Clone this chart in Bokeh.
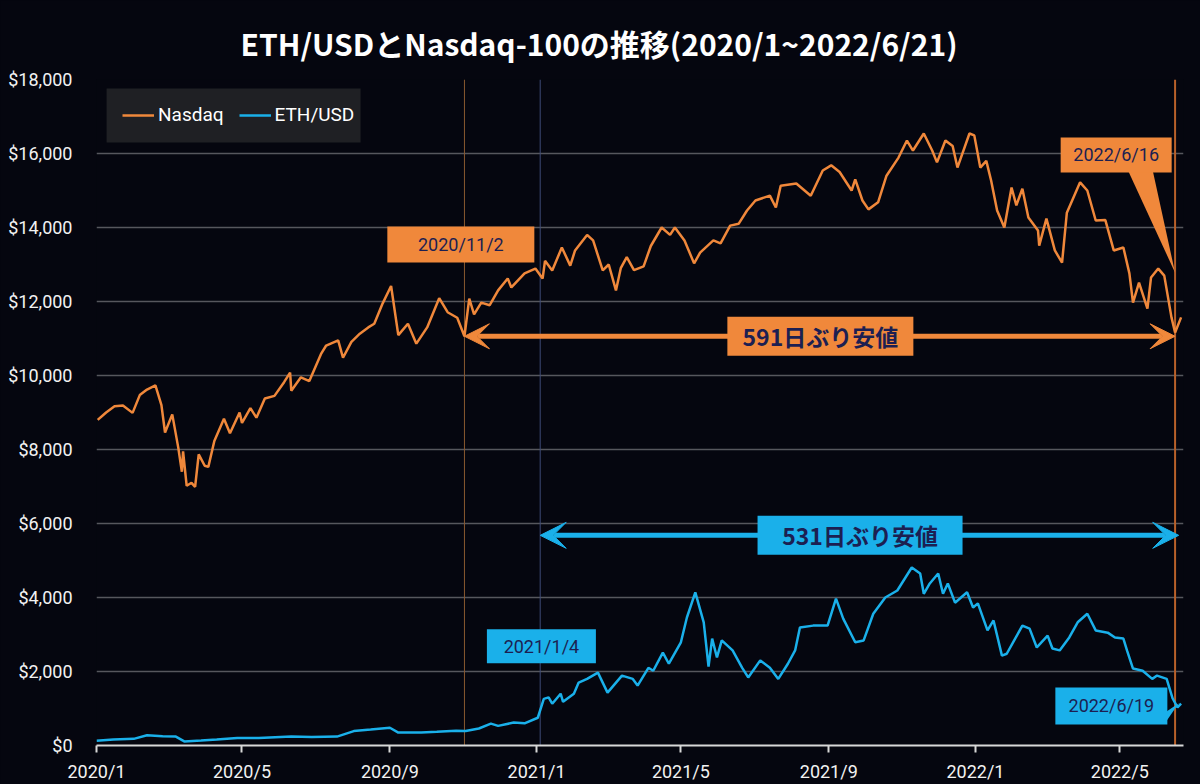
import pandas as pd
from bokeh.plotting import figure
from bokeh.models import (FixedTicker, NumeralTickFormatter, Span, Arrow, VeeHead, Range1d)
from bokeh.core.properties import value
from bokeh.embed import file_html
from bokeh.resources import INLINE

# ---------------- data ----------------
nasdaq_dates = [
    "2020-01-02", "2020-01-09", "2020-01-16", "2020-01-23", "2020-01-31", "2020-02-06", "2020-02-12",
    "2020-02-19", "2020-02-24", "2020-02-27", "2020-03-04", "2020-03-09", "2020-03-12", "2020-03-13",
    "2020-03-16", "2020-03-20", "2020-03-23", "2020-03-26", "2020-03-31", "2020-04-03", "2020-04-08",
    "2020-04-16", "2020-04-21", "2020-04-29", "2020-05-01", "2020-05-08", "2020-05-13", "2020-05-20",
    "2020-05-28", "2020-06-05", "2020-06-10", "2020-06-11", "2020-06-19", "2020-06-26", "2020-07-06",
    "2020-07-10", "2020-07-20", "2020-07-24", "2020-07-31", "2020-08-07", "2020-08-14", "2020-08-19",
    "2020-08-26", "2020-09-02", "2020-09-08", "2020-09-16", "2020-09-23", "2020-10-02", "2020-10-12",
    "2020-10-19", "2020-10-27", "2020-11-02", "2020-11-06", "2020-11-10", "2020-11-16", "2020-11-23",
    "2020-11-30", "2020-12-08", "2020-12-11", "2020-12-22", "2020-12-31",
    "2021-01-06", "2021-01-08", "2021-01-14", "2021-01-22", "2021-01-29", "2021-02-02", "2021-02-12",
    "2021-02-17", "2021-02-25", "2021-03-02", "2021-03-08", "2021-03-12", "2021-03-17", "2021-03-23",
    "2021-03-31", "2021-04-06", "2021-04-15", "2021-04-22", "2021-04-26", "2021-05-04", "2021-05-12",
    "2021-05-17", "2021-05-28", "2021-06-03", "2021-06-11", "2021-06-18", "2021-06-25", "2021-07-02",
    "2021-07-14", "2021-07-19", "2021-07-23", "2021-08-05", "2021-08-17", "2021-08-27", "2021-09-03",
    "2021-09-10", "2021-09-20", "2021-09-23", "2021-09-29", "2021-10-04", "2021-10-12", "2021-10-19",
    "2021-10-29", "2021-11-05", "2021-11-10", "2021-11-19", "2021-11-26", "2021-11-30", "2021-12-07",
    "2021-12-13", "2021-12-17", "2021-12-27", "2021-12-31",
    "2022-01-05", "2022-01-10", "2022-01-14", "2022-01-19", "2022-01-25", "2022-01-31", "2022-02-04",
    "2022-02-09", "2022-02-14", "2022-02-22", "2022-02-23", "2022-03-01", "2022-03-08", "2022-03-14",
    "2022-03-18", "2022-03-29", "2022-04-04", "2022-04-11", "2022-04-19", "2022-04-26", "2022-05-04",
    "2022-05-09", "2022-05-12", "2022-05-17", "2022-05-24", "2022-05-27", "2022-06-02", "2022-06-07",
    "2022-06-13", "2022-06-16", "2022-06-21",
]
nasdaq_values = [
    8800, 9000, 9170, 9190, 8990, 9470, 9620,
    9730, 9200, 8460, 8950, 8050, 7400, 7950,
    7020, 7100, 6990, 7870, 7560, 7530, 8230,
    8830, 8440, 9000, 8720, 9120, 8860, 9380,
    9450, 9820, 10080, 9590, 9950, 9850, 10600,
    10810, 10950, 10480, 10910, 11130, 11300, 11400,
    11950, 12420, 11090, 11400, 10860, 11300, 12090,
    11710, 11560, 11060, 12080, 11650, 11970, 11900,
    12300, 12620, 12380, 12760, 12890,
    12620, 13100, 12840, 13460, 12970, 13380, 13800,
    13650, 12840, 13000, 12300, 12900, 13200, 12850,
    12950, 13500, 14000, 13800, 14000, 13650, 13030,
    13320, 13650, 13570, 14050, 14100, 14460, 14730,
    14860, 14540, 15130, 15190, 14860, 15540, 15680,
    15500, 15000, 15300, 14730, 14490, 14680, 15400,
    15890, 16350, 16080, 16540, 16080, 15760, 16350,
    16200, 15620, 16540, 16490,
    15620, 15800, 15270, 14460, 14000, 15080, 14600,
    15050, 14270, 13920, 13510, 14240, 13380, 13050,
    14400, 15220, 15000, 14190, 14200, 13380, 13460,
    12760, 11970, 12510, 11810, 12650, 12890, 12700,
    11570, 11160, 11570,
]

eth_dates = [
    "2020-01-01", "2020-01-15", "2020-02-01", "2020-02-12", "2020-02-25", "2020-03-07", "2020-03-14",
    "2020-03-28", "2020-04-10", "2020-04-27", "2020-05-15", "2020-06-11", "2020-06-28", "2020-07-19",
    "2020-08-02", "2020-08-16", "2020-09-01", "2020-09-08", "2020-09-27", "2020-10-10", "2020-10-26",
    "2020-11-03", "2020-11-14", "2020-11-24", "2020-11-30", "2020-12-13", "2020-12-22", "2021-01-02",
    "2021-01-07", "2021-01-11", "2021-01-14", "2021-01-21", "2021-01-23", "2021-02-01", "2021-02-05",
    "2021-02-12", "2021-02-21", "2021-03-01", "2021-03-13", "2021-03-22", "2021-03-26", "2021-04-04",
    "2021-04-08", "2021-04-16", "2021-04-21", "2021-05-01", "2021-05-06", "2021-05-13", "2021-05-20",
    "2021-05-24", "2021-05-27", "2021-05-31", "2021-06-04", "2021-06-13", "2021-06-21", "2021-06-26",
    "2021-07-06", "2021-07-14", "2021-07-21", "2021-07-29", "2021-08-04", "2021-08-08", "2021-08-19",
    "2021-08-31", "2021-09-07", "2021-09-13", "2021-09-23", "2021-09-30", "2021-10-08", "2021-10-18",
    "2021-10-28", "2021-11-09", "2021-11-16", "2021-11-19", "2021-11-24", "2021-12-01", "2021-12-05",
    "2021-12-09", "2021-12-15", "2021-12-25", "2021-12-30", "2022-01-03", "2022-01-11", "2022-01-16",
    "2022-01-23", "2022-01-27", "2022-02-03", "2022-02-09", "2022-02-15", "2022-02-21", "2022-03-02",
    "2022-03-06", "2022-03-12", "2022-03-20", "2022-03-27", "2022-04-04", "2022-04-11", "2022-04-21",
    "2022-04-27", "2022-05-04", "2022-05-07", "2022-05-12", "2022-05-20", "2022-05-28", "2022-06-01",
    "2022-06-09", "2022-06-14", "2022-06-18", "2022-06-21",
]
eth_values = [
    130, 165, 180, 275, 250, 240, 110,
    135, 160, 200, 205, 240, 228, 240,
    390, 430, 480, 350, 350, 370, 400,
    390, 460, 590, 530, 620, 600, 750,
    1260, 1300, 1130, 1400, 1180, 1400, 1700,
    1800, 1970, 1430, 1890, 1800, 1620, 2100,
    2020, 2510, 2210, 2790, 3460, 4140, 3330,
    2130, 2890, 2380, 2840, 2570, 2100, 1840,
    2300, 2100, 1800, 2210, 2570, 3190, 3240,
    3240, 3970, 3430, 2790, 2840, 3560, 4000,
    4190, 4810, 4650, 4100, 4380, 4650, 4100,
    4380, 3860, 4140, 3730, 3840, 3110, 3380,
    2430, 2480, 2890, 3240, 3160, 2650, 2970,
    2620, 2570, 2920, 3330, 3560, 3110, 3050,
    2920, 2890, 2570, 2080, 2020, 1800, 1890,
    1800, 1270, 1030, 1130,
]

x_tick_dates = ["2020-01-01", "2020-05-01", "2020-09-01", "2021-01-01",
                "2021-05-01", "2021-09-01", "2022-01-01", "2022-05-01"]
x_tick_labels = ["2020/1", "2020/5", "2020/9", "2021/1", "2021/5", "2021/9", "2022/1", "2022/5"]
y_ticks = [0, 2000, 4000, 6000, 8000, 10000, 12000, 14000, 16000, 18000]

title_text = "ETH/USDとNasdaq-100の推移(2020/1~2022/6/21)"
nasdaq_prev_low_date, nasdaq_low_date = "2020-11-02", "2022-06-16"
eth_prev_low_date, eth_low_date = "2021-01-04", "2022-06-19"

# ---------------- styles ----------------
BG = "#05060f"
ORANGE = "#f0883b"
CYAN = "#1ab0ea"
NAVY = "#1c1f52"
GRID = "#56575d"
TXT = "#f2f2f2"
LEGEND_BG = "#1f2024"
FONT = "Roboto"
JP = "Noto Sans CJK JP"


def ms(d):
    return pd.Timestamp(d).value / 1e6


def nasdaq_at(d):
    return nasdaq_values[nasdaq_dates.index(d)]


p = figure(width=1200, height=784, x_axis_type="datetime",
           x_range=Range1d(ms("2020-01-01"), ms("2022-06-23")),
           y_range=Range1d(0, 18000),
           output_backend="svg", toolbar_location=None,
           background_fill_color=BG, border_fill_color=BG,
           min_border_left=96, min_border_right=17, min_border_top=79, min_border_bottom=39,
           outline_line_color=None)

p.title.text = title_text
p.title.align = "left"
p.title.offset = 144
p.title.text_color = "white"
p.title.text_font = JP
p.title.text_font_size = "30px"
p.title.text_font_style = "bold"
p.title.standoff = 30

# grid
p.xgrid.visible = False
p.ygrid.ticker = FixedTicker(ticks=y_ticks[1:])
p.ygrid.grid_line_color = GRID
p.ygrid.grid_line_width = 1.5

# y axis
p.yaxis.ticker = FixedTicker(ticks=y_ticks)
p.yaxis.formatter = NumeralTickFormatter(format="$0,0")
p.yaxis.axis_line_color = None
p.yaxis.major_tick_line_color = None
p.yaxis.minor_tick_line_color = None
p.yaxis.major_label_text_color = TXT
p.yaxis.major_label_text_font = FONT
p.yaxis.major_label_text_font_size = "18px"
p.yaxis.major_label_standoff = 18

# x axis
xt = [ms(d) for d in x_tick_dates]
p.xaxis.ticker = FixedTicker(ticks=xt)
p.xaxis.major_label_overrides = {t: l for t, l in zip(xt, x_tick_labels)}
p.xaxis.axis_line_color = "#d8d8d8"
p.xaxis.axis_line_width = 2
p.xaxis.major_tick_line_color = "#d8d8d8"
p.xaxis.major_tick_line_width = 2
p.xaxis.major_tick_out = 7
p.xaxis.major_tick_in = 0
p.xaxis.minor_tick_line_color = None
p.xaxis.major_label_text_color = TXT
p.xaxis.major_label_text_font = FONT
p.xaxis.major_label_text_font_size = "18px"
p.xaxis.major_label_standoff = 8

# legend background panel (screen-sized box anchored near the top-left of the frame)
p.rect(x=[ms("2020-04-24")], y=[17030], width=254, height=54, width_units="screen",
       height_units="screen", fill_color=LEGEND_BG, line_color=None)

# vertical event lines
for d, c, w in [(nasdaq_prev_low_date, "#8a5a30", 1), (eth_prev_low_date, "#3d4a78", 1),
                (nasdaq_low_date, "#b8602a", 2)]:
    p.add_layout(Span(location=ms(d), dimension="height", line_color=c, line_width=w, level="underlay"))

# series
p.line(pd.to_datetime(nasdaq_dates), nasdaq_values, color=ORANGE, line_width=2.5, legend_label="Nasdaq")
p.line(pd.to_datetime(eth_dates), eth_values, color=CYAN, line_width=2.5, legend_label="ETH/USD")

# arrows
nas_arrow_y = nasdaq_at(nasdaq_prev_low_date)
eth_arrow_y = 5680
p.add_layout(Arrow(start=VeeHead(size=25, fill_color=ORANGE, line_color=ORANGE),
                   end=VeeHead(size=25, fill_color=ORANGE, line_color=ORANGE),
                   x_start=ms(nasdaq_prev_low_date), y_start=nas_arrow_y,
                   x_end=ms(nasdaq_low_date), y_end=nas_arrow_y,
                   line_color=ORANGE, line_width=5, level="underlay"))
p.add_layout(Arrow(start=VeeHead(size=26, fill_color=CYAN, line_color=CYAN),
                   end=VeeHead(size=26, fill_color=CYAN, line_color=CYAN),
                   x_start=ms(eth_prev_low_date), y_start=eth_arrow_y,
                   x_end=ms(eth_low_date), y_end=eth_arrow_y,
                   line_color=CYAN, line_width=5, level="underlay"))

# callout pointers
p.patch([ms("2022-05-07"), ms("2022-05-28"), ms(nasdaq_low_date)], [15600, 15600, 12780],
        fill_color=ORANGE, line_color=None)
p.patch([ms("2022-06-08"), ms("2022-06-08"), ms(eth_low_date)], [900, 620, 1140],
        fill_color=CYAN, line_color=None)

# label boxes: (center date, center value, w px, h px, colour, text, font, size, style)
boxes = [
    ("2020-10-30", 13540, 147, 36, ORANGE, "2020/11/2", FONT, "18px", "normal"),
    ("2022-04-28", 15960, 111, 35, ORANGE, "2022/6/16", FONT, "18px", "normal"),
    ("2021-08-25", nas_arrow_y, 186, 39, ORANGE, "591日ぶり安値", JP, "23px", "bold"),
    ("2021-09-27", eth_arrow_y, 205, 39, CYAN, "531日ぶり安値", JP, "23px", "bold"),
    ("2021-01-05", 2680, 109, 34, CYAN, "2021/1/4", FONT, "18px", "normal"),
    ("2022-04-24", 1070, 112, 37, CYAN, "2022/6/19", FONT, "18px", "normal"),
]
for d, yv, w, h, c, t, f, s, st in boxes:
    p.rect(x=[ms(d)], y=[yv], width=w, height=h, width_units="screen", height_units="screen",
           fill_color=c, line_color=None)
    p.text(x=[ms(d)], y=[yv], text=[t], text_align="center", text_baseline="middle",
           text_color=NAVY, text_font=value(f), text_font_size=s, text_font_style=st)

# legend (items only; panel drawn above)
lg = p.legend[0]
lg.location = (26, 619)
lg.orientation = "horizontal"
lg.margin = 0
lg.padding = 0
lg.spacing = 15
lg.glyph_width = 32
lg.glyph_height = 22
lg.label_standoff = 4
lg.label_height = 22
lg.background_fill_alpha = 0
lg.border_line_color = None
lg.label_text_color = "white"
lg.label_text_font = FONT
lg.label_text_font_size = "19px"

PAGE_TEMPLATE = ("{% block postamble %}<style>html, body { background-color: #05060f; "
                 "margin: 0; overflow: hidden; }</style>{% endblock %}")

open("out.html", "w").write(file_html(p, INLINE, template=PAGE_TEMPLATE))
